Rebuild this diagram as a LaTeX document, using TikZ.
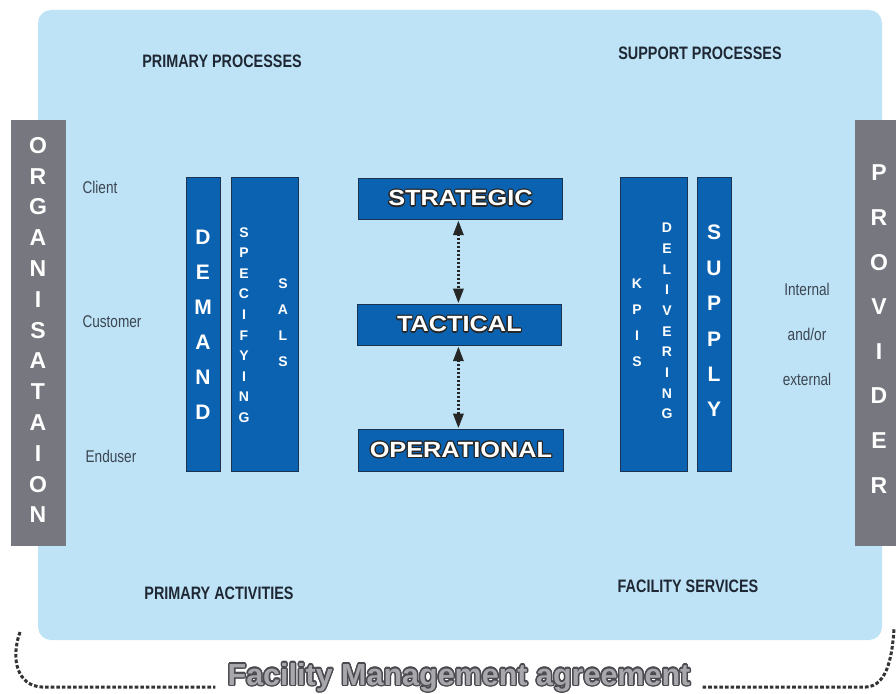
\documentclass[tikz,border=0pt]{standalone}
\usepackage{fontspec}
\usepackage{contour}
\usetikzlibrary{arrows.meta}
\setmainfont{Liberation Sans}
\newfontfamily\condfont[FakeStretch=0.8]{Liberation Sans}
\newfontfamily\widefont[FakeStretch=1.15]{Liberation Sans}

\definecolor{panel}{HTML}{BEE3F6}
\definecolor{boxblue}{HTML}{0B62B0}
\definecolor{boxline}{HTML}{1A3350}
\definecolor{sidebar}{HTML}{77777F}
\definecolor{headtxt}{HTML}{1E2733}
\definecolor{plaintxt}{HTML}{3B4652}
\definecolor{fmfill}{HTML}{A8A8AC}
\definecolor{fmline}{HTML}{4A4A50}

\tikzset{
  column/.style={draw=boxline, line width=0.8pt, fill=boxblue, inner sep=0pt, anchor=north west},
  levelbox/.style={draw=boxline, line width=0.8pt, fill=boxblue, inner sep=0pt, anchor=north west},
  leveltxt/.style={text=white, font=\widefont\fontsize{22}{22}\selectfont\bfseries},
  bigletters/.style={text=white, align=center, inner sep=0pt, font=\fontsize{21}{#1}\selectfont\bfseries},
  smallletters/.style={text=white, align=center, inner sep=0pt, font=\fontsize{14}{#1}\selectfont\bfseries},
  sideletters/.style={text=white, align=center, inner sep=0pt, font=\fontsize{23}{#1}\selectfont\bfseries},
  heading/.style={text=headtxt, font=\condfont\fontsize{18}{18}\selectfont\bfseries},
  plain/.style={text=plaintxt, font=\condfont\fontsize{17}{17}\selectfont},
  dotarrow/.style={line width=2.4pt, draw=black!85, dash pattern=on 2pt off 2pt},
  dottip/.style={line width=0.6pt, draw=black!85, fill=black!85},
  agreeline/.style={line width=3pt, draw=black!80, dash pattern=on 3.6pt off 2pt}
}

\begin{document}
\begin{tikzpicture}[x=1pt,y=-1pt]
\useasboundingbox (0,0) rectangle (896,693);

% light blue panel
\fill[panel, rounded corners=13pt] (38,10) rectangle (882,640);

% side bars
\fill[sidebar] (11,120) rectangle (66,546);
\fill[sidebar] (855,120) rectangle (896,546);
\node[sideletters=30.8] (org) at (38,330) {O\\R\\G\\A\\N\\I\\S\\A\\T\\A\\I\\O\\N};
\node[sideletters=44.6] (prov) at (879,329) {P\\R\\O\\V\\I\\D\\E\\R};

% headings
\node[heading] (pp) at (222,61) {PRIMARY PROCESSES};
\node[heading] (sp) at (700,53) {SUPPORT PROCESSES};
\node[heading] (pa) at (219,593) {PRIMARY ACTIVITIES};
\node[heading] (fs) at (688,586) {FACILITY SERVICES};

% side labels
\node[plain] (client) at (100,187) {Client};
\node[plain] (customer) at (112,322) {Customer};
\node[plain] (enduser) at (111,456) {Enduser};
\node[plain] (internal) at (807,289) {Internal};
\node[plain] (andor) at (807,334) {and/or};
\node[plain] (external) at (807,379) {external};

% demand side columns
\node[column, minimum width=34pt, minimum height=294pt] (demand) at (186,177) {};
\node[column, minimum width=67pt, minimum height=294pt] (spec) at (231,177) {};
\node[bigletters=35] (demandtxt) at (203,325) {D\\E\\M\\A\\N\\D};
\node[smallletters=20.6] (spectxt) at (244,325) {S\\P\\E\\C\\I\\F\\Y\\I\\N\\G};
\node[smallletters=26] (salstxt) at (283,323) {S\\A\\L\\S};

% supply side columns
\node[column, minimum width=67pt, minimum height=294pt] (deliv) at (620,177) {};
\node[column, minimum width=34pt, minimum height=294pt] (supply) at (697,177) {};
\node[smallletters=26] (kpistxt) at (637,323) {K\\P\\I\\S};
\node[smallletters=20.7] (delivtxt) at (667,321) {D\\E\\L\\I\\V\\E\\R\\I\\N\\G};
\node[bigletters=35.4] (supplytxt) at (714,321) {S\\U\\P\\P\\L\\Y};

% management levels
\node[levelbox, minimum width=204pt, minimum height=41pt] (strat) at (358,178) {};
\node[levelbox, minimum width=204pt, minimum height=41pt] (tact) at (357,304) {};
\node[levelbox, minimum width=205pt, minimum height=42pt] (oper) at (358,429) {};
\contourlength{1.1pt}
\node[leveltxt] (strattxt) at (strat.center) {\contour{black!85}{STRATEGIC}};
\node[leveltxt] (tacttxt) at (tact.center) {\contour{black!85}{TACTICAL}};
\node[leveltxt] (opertxt) at (oper.center) {\contour{black!85}{OPERATIONAL}};

% two-way dotted links between the levels: dotted shaft, solid triangular heads
% (y grows downwards here, so a negative yshift moves a point down)
\foreach \up/\dn/\dx in {strat/tact/-2, tact/oper/-1} {
  \coordinate (\up-s) at ([xshift=\dx pt, yshift=-2pt]\up.south);
  \coordinate (\up-e) at ([xshift=\dx pt, yshift=2pt]\up.south |- \dn.north);
  \draw[dotarrow] ([yshift=-12pt]\up-s) -- ([yshift=12pt]\up-e);
  \filldraw[dottip] (\up-s) -- ++(-5,13) -- ++(10,0) -- cycle;
  \filldraw[dottip] (\up-e) -- ++(-5,-13) -- ++(10,0) -- cycle;
}

% agreement bracket
\node[inner xsep=12pt, inner ysep=0pt, text=fmfill,
      font=\fontsize{30.5}{30.5}\selectfont\bfseries] (fm) at (459,678)
      {\contourlength{1.4pt}\contour{fmline}{Facility Management agreement}};
\coordinate (lefttop) at (20,632);
\coordinate (righttop) at (894,629);
\draw[agreeline] (lefttop) .. controls (10,660) and (18,686) .. (42,687) -- (fm.west |- 0,687);
\draw[agreeline] (fm.east |- 0,687) -- (866,687) .. controls (886,686) and (892,660) .. (righttop);
\end{tikzpicture}
\end{document}
